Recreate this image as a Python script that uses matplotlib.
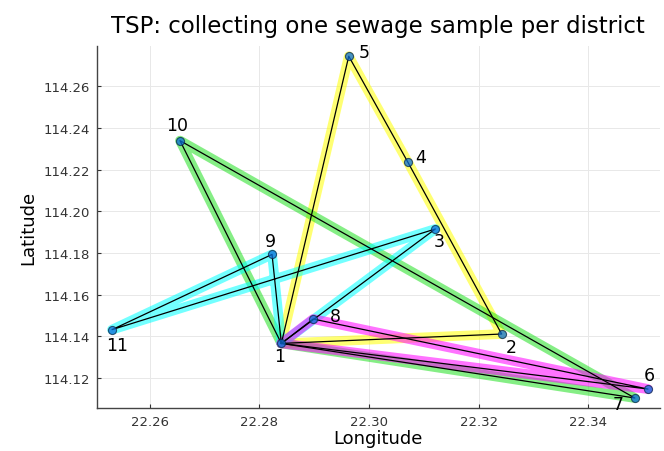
import numpy as np
from matplotlib import pyplot as plt

# district sample points (longitude, latitude)
node_id = [1, 2, 3, 4, 5, 6, 7, 8, 9, 10, 11]
lon = [22.2840, 22.3242, 22.3121, 22.3071, 22.2963, 22.3509, 22.3485,
       22.2898, 22.2823, 22.2655, 22.2531]
lat = [114.1366, 114.1411, 114.1915, 114.2235, 114.2744, 114.1147,
       114.1104, 114.1483, 114.1793, 114.2339, 114.1432]

# tours, each starting and ending at node 1
route_yellow = [1, 5, 4, 2, 1]
route_green = [1, 10, 7, 1]
route_cyan = [1, 3, 11, 9, 1]
route_magenta = [1, 8, 6, 1]

routes = [route_yellow, route_green, route_cyan, route_magenta]
route_colors = ["#ffff00", "#22e022", "#00ffff", "#ff00ff"]

# label offsets in points (dx, dy)
label_offset = {1: (-1, -9), 2: (7, -9), 3: (3, -9), 4: (9, 4), 5: (11, 3),
                6: (1, 10), 7: (-12, -4), 8: (16, 2), 9: (-1, 10), 10: (-2, 11),
                11: (4, -11)}

xticks = [22.26, 22.28, 22.30, 22.32, 22.34]
yticks = [114.12, 114.14, 114.16, 114.18, 114.20, 114.22, 114.24, 114.26]


def xy(route):
    xs = [lon[n - 1] for n in route]
    ys = [lat[n - 1] for n in route]
    return xs, ys


plt.close("all")
fig = plt.figure(figsize=(6.64, 4.52), dpi=100)
ax = fig.add_axes([0.1456, 0.0951, 0.8484, 0.8009])

for route, col in zip(routes, route_colors):
    xs, ys = xy(route)
    ax.plot(xs, ys, color=col, lw=7, alpha=0.55, solid_capstyle="round",
            solid_joinstyle="round", zorder=2)
for route in routes:
    xs, ys = xy(route)
    ax.plot(xs, ys, color="black", lw=0.9, zorder=3)

ax.scatter(lon, lat, s=34, color="#0a6ed8", alpha=0.75, edgecolors="#0b2a4a",
           linewidths=0.8, zorder=4)

for n, x, y in zip(node_id, lon, lat):
    dx, dy = label_offset[n]
    ax.annotate(str(n), (x, y), xytext=(dx, dy), textcoords="offset points",
                ha="center", va="center", fontsize=12.5, zorder=5)

ax.set_xlim(22.2503, 22.3531)
ax.set_ylim(114.1056, 114.2793)
ax.set_xticks(xticks)
ax.set_xticklabels([f"{t:.2f}" for t in xticks])
ax.set_yticks(yticks)
ax.set_yticklabels([f"{t:.2f}" for t in yticks])
ax.tick_params(direction="in", labelsize=9.5, colors="#333333", length=3,
               pad=5)
ax.grid(True, color="#e8e8e8", lw=0.7)
ax.set_axisbelow(True)
for side in ["top", "right"]:
    ax.spines[side].set_visible(False)
for side in ["left", "bottom"]:
    ax.spines[side].set_color("#444444")
    ax.spines[side].set_linewidth(1.0)

ax.set_xlabel("Longitude", fontsize=13, labelpad=1)
ax.set_ylabel("Latitude", fontsize=13, labelpad=4)
ax.set_title("TSP: collecting one sewage sample per district", fontsize=16.5,
             pad=10)

fig.savefig("out.png", dpi=100)
